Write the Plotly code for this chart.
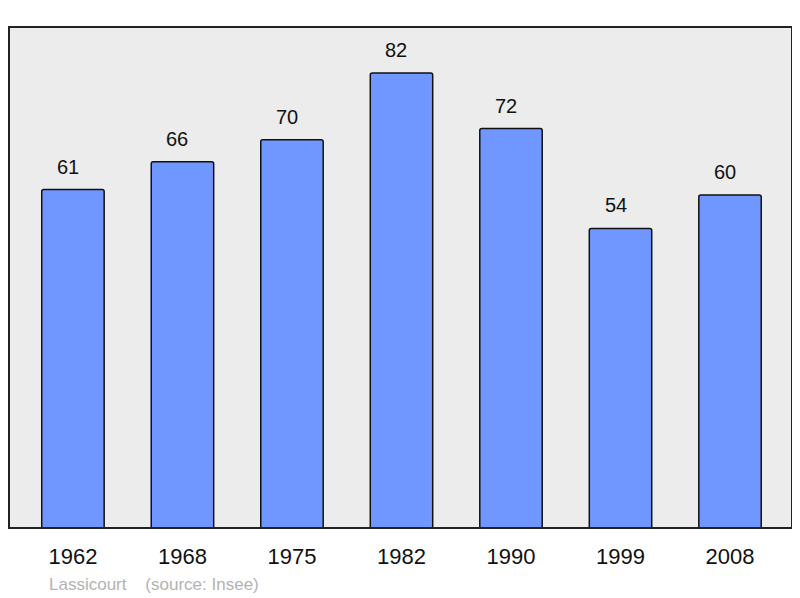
import plotly.graph_objects as go

# population de Lassicourt par recensement
years = ['1962', '1968', '1975', '1982', '1990', '1999', '2008']
population = [61, 66, 70, 82, 72, 54, 60]
commune = 'Lassicourt'
source = '(source: Insee)'

fig = go.Figure()

fig.add_trace(go.Bar(x=years, y=population, width=0.57,
                     marker=dict(color='#7097ff', line=dict(color='#111111', width=1.5), cornerradius=2)))

# valeurs au-dessus des barres (x en indice, sinon '1962' est lu comme un indice de categorie)
for i, val in enumerate(population):
    fig.add_annotation(x=i, y=val, text=str(val), showarrow=False, yanchor='bottom', yshift=10, xshift=-5,
                       font=dict(family='Liberation Sans', size=20, color='#111111'))

fig.add_annotation(xref='paper', yref='paper', x=0.049, y=-0.112, xanchor='left', yanchor='middle',
                   text=commune + '&nbsp;&nbsp;&nbsp;&nbsp;' + source, showarrow=False,
                   font=dict(family='Liberation Sans', size=17, color='#b3b3b3'))

# cadre du graphique
fig.add_shape(type='rect', xref='paper', yref='paper', x0=0, y0=0, x1=1, y1=1,
              line=dict(color='#222222', width=2), layer='above')

fig.update_xaxes(type='category', range=[-0.584, 6.566], showgrid=False, zeroline=False,
                 ticks='outside', ticklen=9, tickcolor='rgba(0,0,0,0)',
                 tickfont=dict(family='Liberation Sans', size=22, color='#111111'))
fig.update_yaxes(range=[0, 90.3], showgrid=False, zeroline=False, showticklabels=False)

# la page ajoute une marge de 8 px, donc figure un peu plus petite
fig.update_layout(width=792, height=590, margin=dict(l=1, r=8, t=19, b=70),
                  plot_bgcolor='#ececec', paper_bgcolor='white', showlegend=False,
                  font=dict(family='Liberation Sans'))

fig.write_html('out.html')
